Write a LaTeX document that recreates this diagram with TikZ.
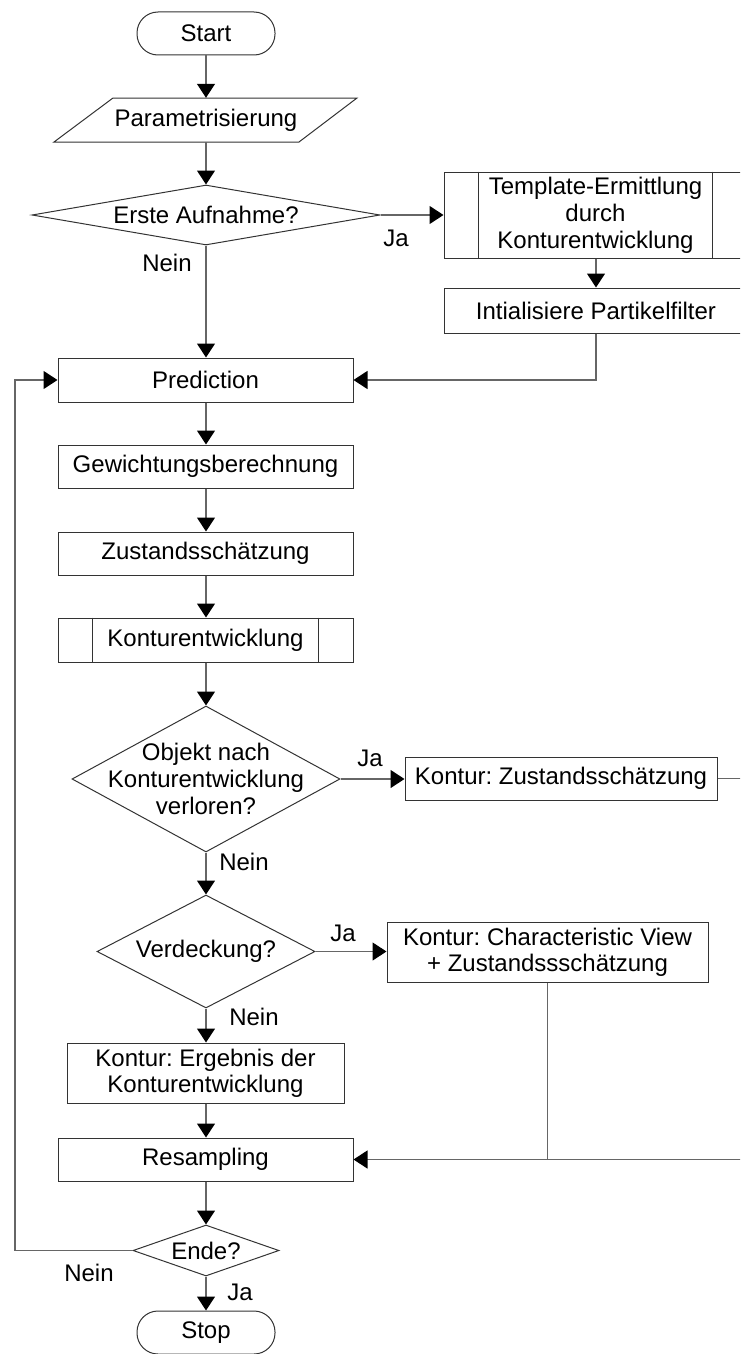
\documentclass[tikz,border=0pt]{standalone}
\usepackage{fontspec}
\setmainfont{Liberation Sans}
\frenchspacing
\usetikzlibrary{arrows.meta,shapes.geometric,calc}
\tikzset{
  txtfont/.style={font=\fontsize{24}{27}\selectfont},
  box/.style={draw=black!80, line width=1pt, rectangle, inner sep=0pt, align=center, txtfont},
  term/.style={box, rounded corners=21pt, minimum width=138pt, minimum height=43pt},
  plain/.style={inner sep=0pt, align=center, txtfont},
  dia/.style={draw=black!80, line width=1pt, diamond, inner sep=0pt},
  conn/.style={draw=black!60, line width=1.2pt},
  arr/.style={conn, -{Triangle[length=14pt,width=18pt,color=black]}},
}
\begin{document}
\frenchspacing
\begin{tikzpicture}[x=1pt,y=-1pt]
\useasboundingbox (0,0) rectangle (740,1354);
\clip (0,0) rectangle (740,1354);
% nodes
\node[term] (start) at (206,33.5) {Start};
\node[plain, minimum height=44pt] (par) at (206,120) {Parametrisierung};
\coordinate (p1) at (113,98);
\coordinate (p2) at (357,98);
\coordinate (p3) at (299,142);
\coordinate (p4) at (54,142);
\draw[draw=black!80, line width=1pt] (p1) -- (p2) -- (p3) -- (p4) -- cycle;
\node[dia, minimum width=348pt, minimum height=60pt, aspect=5.8] (d1) at (206,215) {};
\node[plain] (d1t) at (d1) {Erste Aufnahme?};
\node[box, minimum width=303pt, minimum height=86pt] (tmpl) at (595.5,215) {Template-Ermittlung\\durch\\Konturentwicklung};
\draw[draw=black!80, line width=1pt] ([xshift=35pt]tmpl.north west) -- ([xshift=35pt]tmpl.south west);
\draw[draw=black!80, line width=1pt] ([xshift=-35pt]tmpl.north east) -- ([xshift=-35pt]tmpl.south east);
\node[box, minimum width=304pt, minimum height=45pt] (init) at (596,310.5) {Intialisiere Partikelfilter};
\node[box, minimum width=295pt, minimum height=44pt] (pred) at (205.5,380) {Prediction};
\node[box, minimum width=295pt, minimum height=43pt] (gew) at (205.5,466.5) {Gewichtungsberechnung};
\node[box, minimum width=295pt, minimum height=43pt] (zus) at (205.5,553.5) {Zustandsschätzung};
\node[box, minimum width=295pt, minimum height=44pt] (kon) at (205.5,640) {Konturentwicklung};
\draw[draw=black!80, line width=1pt] ([xshift=35pt]kon.north west) -- ([xshift=35pt]kon.south west);
\draw[draw=black!80, line width=1pt] ([xshift=-35pt]kon.north east) -- ([xshift=-35pt]kon.south east);
\node[dia, minimum width=268pt, minimum height=146pt, aspect=1.84] (d2) at (206,779) {};
\node[plain] (d2t) at (d2) {Objekt nach\\Konturentwicklung\\verloren?};
\node[box, minimum width=312pt, minimum height=43pt] (k1) at (561,778.5) {Kontur: Zustandsschätzung};
\node[dia, minimum width=218pt, minimum height=113pt, aspect=1.93] (d3) at (206,951.5) {};
\node[plain] (d3t) at (d3) {Verdeckung?};
\node[box, minimum width=321pt, minimum height=60pt, font=\fontsize{24}{26}\selectfont] (k2) at (547.5,952) {Kontur: Characteristic View\\+ Zustandssschätzung};
\node[box, minimum width=277pt, minimum height=60pt, font=\fontsize{24}{26}\selectfont] (k3) at (205.5,1073) {Kontur: Ergebnis der\\Konturentwicklung};
\node[box, minimum width=295pt, minimum height=43pt] (res) at (205.5,1159.5) {Resampling};
\node[dia, minimum width=146pt, minimum height=51pt, aspect=2.86] (d4) at (206,1250.5) {};
\node[plain] (d4t) at (d4) {Ende?};
\node[term] (stop) at (206,1332.5) {Stop};
% labels
\node[plain] (l1) at (167,263) {Nein};
\node[plain] (l2) at (396,238) {Ja};
\node[plain] (l3) at (370,758) {Ja};
\node[plain] (l4) at (244,862) {Nein};
\node[plain] (l5) at (343,933) {Ja};
\node[plain] (l6) at (254,1017) {Nein};
\node[plain] (l7) at (89,1273) {Nein};
\node[plain] (l8) at (240,1292) {Ja};
% connectors
\draw[arr] (start.south) -- (par.north);
\draw[arr] (par.south) -- (d1.north);
\draw[arr] (d1.east) -- (tmpl.west);
\draw[arr] (tmpl.south -| init.north) -- (init.north);
\draw[arr] (d1.south) -- (d1.south |- pred.north);
\coordinate (rc) at (init.south |- pred.east);
\draw[arr] (init.south) -- (rc) -- (pred.east);
\draw[arr] (pred.south -| d1.south) -- (gew.north -| d1.south);
\draw[arr] (gew.south -| d1.south) -- (zus.north -| d1.south);
\draw[arr] (zus.south -| d1.south) -- (kon.north -| d1.south);
\draw[arr] (kon.south -| d2.north) -- (d2.north);
\draw[arr] (d2.east) -- (k1.west |- d2.east);
\draw[arr] (d2.south) -- (d3.north);
\draw[arr] (d3.east) -- (k2.west |- d3.east);
\draw[arr] (d3.south) -- (k3.north -| d3.south);
\draw[arr] (k3.south -| d3.south) -- (res.north -| d3.south);
\draw[arr] (res.south -| d4.north) -- (d4.north);
\draw[arr] (d4.south) -- (stop.north);
\coordinate (lx1) at (15,1250.5);
\coordinate (lx2) at (15,380);
\draw[arr] (d4.west) -- (lx1) -- (lx2) -- (pred.west);
\coordinate (rx1) at (760,778.5);
\coordinate (rx2) at (760,1159.5);
\draw[arr] (k1.east) -- (rx1) -- (rx2) -- (res.east);
\draw[conn] (k2.south) -- (k2.south |- res.east);
\end{tikzpicture}
\end{document}
